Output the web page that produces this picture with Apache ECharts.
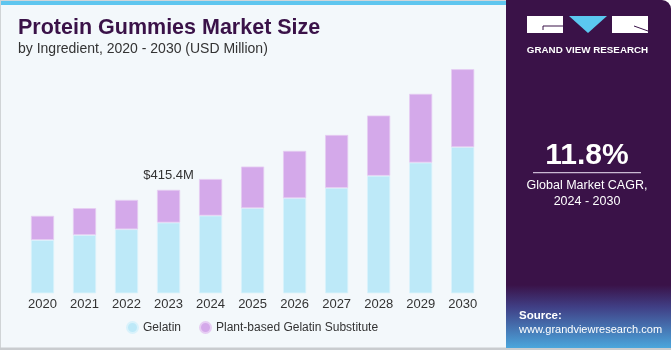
<!DOCTYPE html>
<html>
<head>
<meta charset="utf-8">
<script src="https://cdn.jsdelivr.net/npm/echarts@6/dist/echarts.min.js"></script>
<style>
  html, body { margin: 0; padding: 0; background: #fff; }
  #chart { width: 671px; height: 350px; }
</style>
</head>
<body>
<div id="chart"></div>
<script>
const years = ['2020', '2021', '2022', '2023', '2024', '2025', '2026', '2027', '2028', '2029', '2030'];
const gelatin = [214, 234, 257, 284, 312, 342, 382, 423, 472, 525, 587];
const plantBased = [97, 108, 118, 131.4, 147, 167, 190, 213, 242, 276, 313];
const labelled = '2023';
const labelText = '$415.4M';

const ink = '#3a1248';
const font = "'Liberation Sans', Arial, sans-serif";

const chart = echarts.init(document.getElementById('chart'));

const option = {
  animation: false,
  backgroundColor: '#ffffff',
  textStyle: {fontFamily: font},
  grid: {left: 21.5, right: 187.3, top: 44.3, bottom: 56.7},
  legend: {
    bottom: 11,
    left: 121,
    icon: 'circle',
    itemWidth: 11,
    itemHeight: 11,
    itemGap: 18,
    textStyle: {color: '#333', fontSize: 12, fontFamily: font},
    data: ['Gelatin', 'Plant-based Gelatin Substitute'],
  },
  xAxis: {
    type: 'category',
    data: years,
    axisLine: {show: false},
    axisTick: {show: false},
    axisLabel: {color: '#333', fontSize: 13, margin: 5, fontFamily: font},
  },
  yAxis: {
    type: 'value',
    min: 0,
    max: 1000,
    show: false,
    splitLine: {show: false},
  },
  series: [
    {
      name: 'Gelatin',
      type: 'bar',
      stack: 'total',
      barWidth: '55%',
      data: gelatin,
      itemStyle: {color: '#bde9f8', borderColor: '#d9f2fb', borderWidth: 0.8},
    },
    {
      name: 'Plant-based Gelatin Substitute',
      type: 'bar',
      stack: 'total',
      data: plantBased.map((v, i) => years[i] === labelled ? {
        value: v,
        label: {show: true, position: 'top', distance: 8, formatter: labelText,
          color: '#333', fontSize: 13, fontFamily: font},
      } : v),
      itemStyle: {color: '#d4a9ea', borderColor: '#e6cdf3', borderWidth: 0.8},
    },
  ],
  graphic: [
    // plot panel background
    {type: 'rect', z: -10, silent: true, shape: {x: 0, y: 0, width: 506, height: 349},
      style: {fill: '#f3f8fb'}},
    {type: 'rect', z: -9, silent: true, shape: {x: 0, y: 0, width: 506, height: 1},
      style: {fill: '#cfd6da'}},
    {type: 'rect', z: -9, silent: true, shape: {x: 0, y: 1, width: 506, height: 4},
      style: {fill: '#5fc6ef'}},
    {type: 'rect', z: -9, silent: true, shape: {x: 0, y: 0, width: 1, height: 349},
      style: {fill: '#d0d4d6'}},
    {type: 'rect', z: -9, silent: true, shape: {x: 0, y: 347.5, width: 671, height: 2.5},
      style: {fill: '#c9cccf'}},
    // right panel
    {type: 'rect', z: -5, silent: true, shape: {x: 506, y: 0, width: 165, height: 348, r: [0, 9, 0, 0]},
      style: {fill: '#3a1248'}},
    {type: 'rect', z: -4, silent: true, shape: {x: 506, y: 285, width: 165, height: 63},
      style: {fill: new echarts.graphic.LinearGradient(0, 0, 0, 1, [
        {offset: 0, color: '#3a1248'},
        {offset: 0.35, color: '#403f85'},
        {offset: 1, color: '#4ba6dc'},
      ])}},
    // logo
    {type: 'rect', silent: true, shape: {x: 527, y: 16, width: 36, height: 17}, style: {fill: '#ffffff'}},
    {type: 'line', silent: true, shape: {x1: 543, y1: 26, x2: 563, y2: 26}, style: {stroke: '#3a1248', lineWidth: 1}},
    {type: 'line', silent: true, shape: {x1: 543, y1: 26, x2: 543, y2: 30}, style: {stroke: '#3a1248', lineWidth: 1}},
    {type: 'polygon', silent: true, shape: {points: [[569, 16], [607, 16], [588, 33]]}, style: {fill: '#5bc8f0'}},
    {type: 'rect', silent: true, shape: {x: 612, y: 16, width: 36, height: 17}, style: {fill: '#ffffff'}},
    {type: 'line', silent: true, shape: {x1: 634, y1: 26, x2: 648, y2: 31}, style: {stroke: '#3a1248', lineWidth: 1}},
    {type: 'text', silent: true, x: 587.5, y: 50, style: {text: 'GRAND VIEW RESEARCH', fill: '#ffffff',
      font: "bold 9.8px 'Liberation Sans', Arial, sans-serif", textAlign: 'center', textVerticalAlign: 'middle'}},
    // CAGR
    {type: 'text', silent: true, x: 587, y: 156, style: {text: '11.8%', fill: '#ffffff',
      font: "bold 30px 'Liberation Sans', Arial, sans-serif", textAlign: 'center', textVerticalAlign: 'middle'}},
    {type: 'rect', silent: true, shape: {x: 533, y: 172, width: 108, height: 1.2}, style: {fill: '#c9b8d2'}},
    {type: 'text', silent: true, x: 587, y: 186, style: {text: 'Global Market CAGR,', fill: '#ffffff',
      font: "12.5px 'Liberation Sans', Arial, sans-serif", textAlign: 'center', textVerticalAlign: 'middle'}},
    {type: 'text', silent: true, x: 587, y: 202, style: {text: '2024 - 2030', fill: '#ffffff',
      font: "12.5px 'Liberation Sans', Arial, sans-serif", textAlign: 'center', textVerticalAlign: 'middle'}},
    // source
    {type: 'text', silent: true, x: 519, y: 316, style: {text: 'Source:', fill: '#ffffff',
      font: "bold 11.5px 'Liberation Sans', Arial, sans-serif", textVerticalAlign: 'middle'}},
    {type: 'text', silent: true, x: 519, y: 330, style: {text: 'www.grandviewresearch.com', fill: '#ffffff',
      font: "11px 'Liberation Sans', Arial, sans-serif", textVerticalAlign: 'middle'}},
    // title
    {type: 'text', silent: true, x: 18, y: 28, style: {text: 'Protein Gummies Market Size', fill: ink,
      font: "bold 21.5px 'Liberation Sans', Arial, sans-serif", textVerticalAlign: 'middle'}},
    {type: 'text', silent: true, x: 18, y: 49, style: {text: 'by Ingredient, 2020 - 2030 (USD Million)', fill: '#333',
      font: "14px 'Liberation Sans', Arial, sans-serif", textVerticalAlign: 'middle'}},
  ],
};

chart.setOption(option);
</script>
</body>
</html>
